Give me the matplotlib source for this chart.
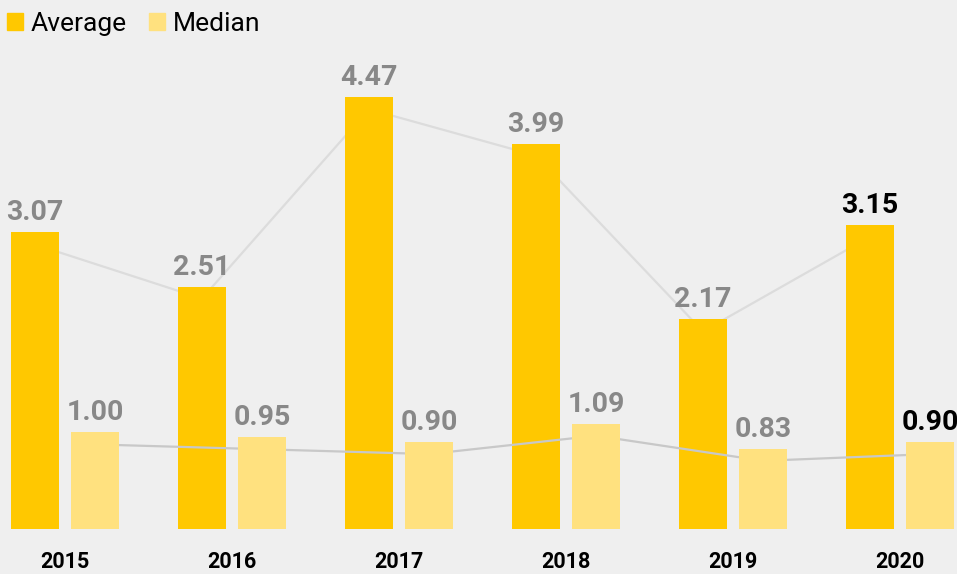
import matplotlib
matplotlib.use("Agg")
import matplotlib.pyplot as plt
import numpy as np
from matplotlib.patches import Patch
from matplotlib.transforms import ScaledTranslation

years = ["2015", "2016", "2017", "2018", "2019", "2020"]
average = [3.07, 2.51, 4.47, 3.99, 2.17, 3.15]
median = [1.00, 0.95, 0.90, 1.09, 0.83, 0.90]

avg_color = "#FFC800"
med_color = "#FFE17F"
bg = "#EFEFEF"
label_gray = "#888888"

plt.rcParams['font.family'] = ['Roboto', 'DejaVu Sans']

W, H = 957, 574
fig = plt.figure(figsize=(W / 100, H / 100), dpi=100, facecolor=bg)
ax = fig.add_axes([0, 45 / H, 1, 529 / H])
ax.set_facecolor(bg)

x = np.arange(len(years))
bw = 0.287
off = 0.18

shift = ScaledTranslation(0, -12 / 100, fig.dpi_scale_trans)

ax.plot(x - off, average, color="#DCDCDC", lw=1.6, zorder=1,
        transform=ax.transData + shift)
ax.bar(x - off, average, width=bw, color=avg_color, zorder=2)
ax.plot(x + off, median, color="#C8C8C8", lw=1.6, zorder=3,
        transform=ax.transData + shift)
ax.bar(x + off, median, width=bw, color=med_color, zorder=4)

n = len(years)
for i in range(n):
    c = "black" if i == n - 1 else label_gray
    ax.annotate(f"{average[i]:.2f}", (x[i] - off, average[i]), xytext=(0, 6),
                textcoords="offset pixels", ha="center", va="bottom",
                fontsize=20.5, fontweight="bold", color=c, zorder=5)
    ax.annotate(f"{median[i]:.2f}", (x[i] + off, median[i]), xytext=(0, 6),
                textcoords="offset pixels", ha="center", va="bottom",
                fontsize=20.5, fontweight="bold", color=c, zorder=5)

ax.set_xlim(-65 / 167, (W - 65) / 167)
ax.set_ylim(0, 529 / 96.6)
ax.set_xticks(x)
ax.set_xticklabels(years, fontsize=15.5, fontweight="bold", color="black")
ax.tick_params(axis="x", length=0, pad=16)
ax.set_yticks([])
for s in ax.spines.values():
    s.set_visible(False)

handles = [Patch(color=avg_color, label="Average"), Patch(color=med_color, label="Median")]
fig.legend(handles=handles, loc="upper left", bbox_to_anchor=(-0.004, 0.998), ncol=2,
           frameon=False, fontsize=19, handlelength=0.6, handleheight=0.6,
           handletextpad=0.3, columnspacing=0.85, borderaxespad=0.0)

fig.savefig("out.png", dpi=100, facecolor=bg)
